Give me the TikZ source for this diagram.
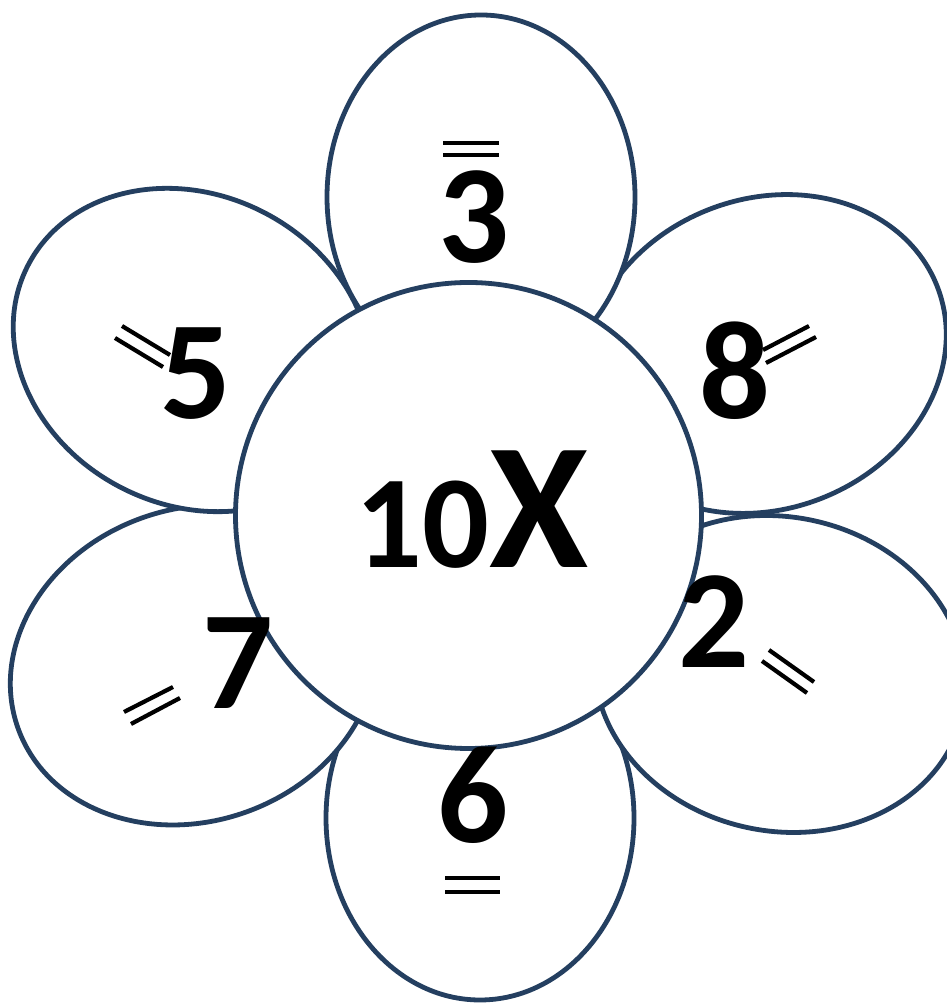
\documentclass[tikz,border=0pt]{standalone}
\usepackage{fontspec}
\setmainfont{Carlito}
\definecolor{petalline}{HTML}{243F60}
\begin{document}
\begin{tikzpicture}[x=1pt,y=1pt,
  petal/.style={draw=petalline, fill=white, line width=4.8pt},
  num/.style={inner sep=0pt, anchor=base, font=\bfseries\fontsize{140}{140}\selectfont},
  eqline/.style={draw=black, line width=4.2pt}]
\useasboundingbox (0,0) rectangle (946,1003);
% petals
\draw[petal] (480,185) ellipse [x radius=154pt, y radius=182pt];
\draw[petal, rotate around={20:(194,338)}] (194,338) ellipse [x radius=187pt, y radius=156pt];
\draw[petal, rotate around={-12.2:(780,329)}] (780,329) ellipse [x radius=187pt, y radius=157pt];
\draw[petal, rotate around={-27:(192.5,653)}] (192.5,653) ellipse [x radius=185pt, y radius=155pt];
\draw[petal, rotate around={21.6:(765,649)}] (765,649) ellipse [x radius=185pt, y radius=155pt];
\draw[petal] (481,806) ellipse [x radius=154pt, y radius=182pt];
% centre
\node[petal, circle, minimum size=466pt, inner sep=0pt] (centre) at (468.5,487.5) {};
\node[inner sep=0pt, anchor=base] (times) at (472,435)
  {\bfseries{\fontsize{132}{132}\selectfont 10}{\fontsize{180}{180}\selectfont X}};
% numbers
\node[num] (n3) at (474,740) {3};
\node[num] (n5) at (196,584) {5};
\node[num] (n8) at (735,584) {8};
\node[num] (n7) at (238,294) {7};
\node[num] (n2) at (714,335) {2};
\node[num] (n6) at (473,160) {6};
% equals marks
\coordinate (a1) at (443,860); \coordinate (a2) at (499,860);
\coordinate (a3) at (443,848); \coordinate (a4) at (499,848);
\draw[eqline] (a1) -- (a2); \draw[eqline] (a3) -- (a4);
\coordinate (b1) at (122,677); \coordinate (b2) at (170,648);
\coordinate (b3) at (115,665); \coordinate (b4) at (163,636);
\draw[eqline] (b1) -- (b2); \draw[eqline] (b3) -- (b4);
\coordinate (c1) at (763,653); \coordinate (c2) at (809,677);
\coordinate (c3) at (766,640); \coordinate (c4) at (816,666);
\draw[eqline] (c1) -- (c2); \draw[eqline] (c3) -- (c4);
\coordinate (d1) at (124,291); \coordinate (d2) at (173,316);
\coordinate (d3) at (131,279); \coordinate (d4) at (180,305);
\draw[eqline] (d1) -- (d2); \draw[eqline] (d3) -- (d4);
\coordinate (e1) at (769,353); \coordinate (e2) at (814,321);
\coordinate (e3) at (762,342); \coordinate (e4) at (807,310);
\draw[eqline] (e1) -- (e2); \draw[eqline] (e3) -- (e4);
\coordinate (f1) at (445,125); \coordinate (f2) at (500,125);
\coordinate (f3) at (445,111); \coordinate (f4) at (500,111);
\draw[eqline] (f1) -- (f2); \draw[eqline] (f3) -- (f4);
\end{tikzpicture}
\end{document}
